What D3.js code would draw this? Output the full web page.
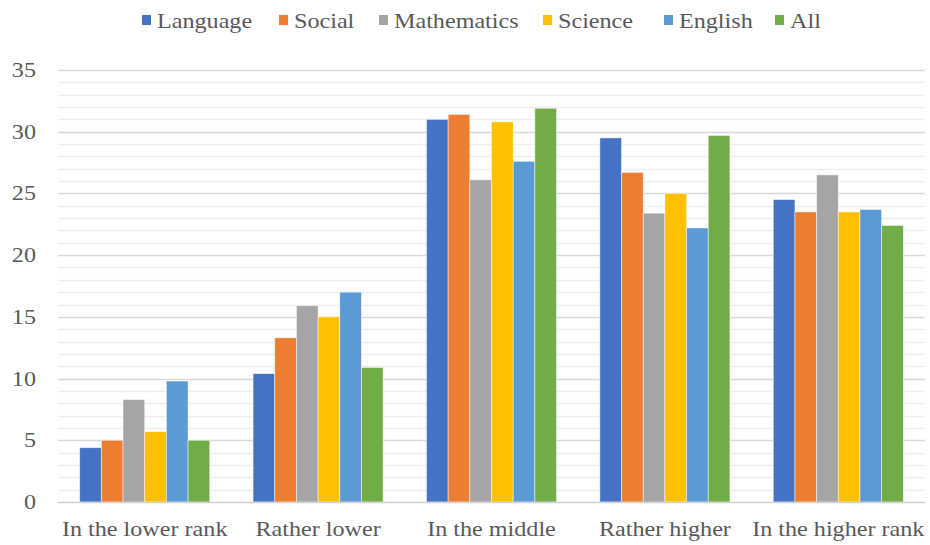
<!DOCTYPE html>
<html>
<head>
<meta charset="utf-8">
<script src="https://cdn.jsdelivr.net/npm/d3@7"></script>
<style>
  html, body { margin: 0; padding: 0; background: #fff; }
  svg { display: block; }
</style>
</head>
<body>
<svg id="chart" width="930" height="545" font-family="'Liberation Serif', 'DejaVu Serif', serif"></svg>
<script>
// Category labels along the x axis
const categories = ["In the lower rank", "Rather lower", "In the middle", "Rather higher", "In the higher rank"];
// Series names and colours
const seriesNames = ["Language", "Social", "Mathematics", "Science", "English", "All"];
const seriesColors = ["#4472C4", "#ED7D31", "#A5A5A5", "#FFC000", "#5B9BD5", "#70AD47"];
// Values per series, one per category
const language    = [4.4, 10.4, 31.0, 29.5, 24.5];
const social      = [5.0, 13.3, 31.4, 26.7, 23.5];
const mathematics = [8.3, 15.9, 26.1, 23.4, 26.5];
const science     = [5.7, 15.0, 30.8, 25.0, 23.5];
const english     = [9.8, 17.0, 27.6, 22.2, 23.7];
const all         = [5.0, 10.9, 31.9, 29.7, 22.4];
const seriesValues = [language, social, mathematics, science, english, all];
// Y axis tick labels
const yTicks = [0, 5, 10, 15, 20, 25, 30, 35];

const svg = d3.select("#chart");
const margin = { left: 58, right: 5, top: 70, bottom: 43 };
const W = 930, H = 545;
const textColor = "#595959";
const fontSize = 21;
const stretch = 1.15; // slightly wide lettering

const x = d3.scaleBand().domain(categories).range([margin.left, W - margin.right]).paddingInner(0.25).paddingOuter(0.125);
const xs = d3.scaleBand().domain(seriesNames).range([0, x.bandwidth()]);
const y = d3.scaleLinear().domain([0, 35]).range([H - margin.bottom, margin.top]);

// minor gridlines every unit
const minor = d3.range(1, 35).filter(v => v % 5 !== 0);
svg.append("g").selectAll("line").data(minor).join("line")
  .attr("x1", margin.left).attr("x2", W - margin.right)
  .attr("y1", d => Math.round(y(d)) + 0.5).attr("y2", d => Math.round(y(d)) + 0.5)
  .attr("stroke", "#eeeeee").attr("stroke-width", 1.3);

// major gridlines
svg.append("g").selectAll("line").data(yTicks.filter(v => v > 0)).join("line")
  .attr("x1", margin.left).attr("x2", W - margin.right)
  .attr("y1", d => Math.round(y(d)) + 0.5).attr("y2", d => Math.round(y(d)) + 0.5)
  .attr("stroke", "#d9d9d9").attr("stroke-width", 1.5);

// bars
const groups = svg.append("g").selectAll("g").data(categories).join("g")
  .attr("transform", d => `translate(${x(d)},0)`);
groups.selectAll("rect")
  .data((c, i) => seriesNames.map((s, j) => ({ s, j, v: seriesValues[j][i] })))
  .join("rect")
  .attr("x", d => xs(d.s))
  .attr("width", xs.bandwidth())
  .attr("y", d => y(d.v))
  .attr("height", d => y(0) - y(d.v))
  .attr("fill", d => seriesColors[d.j])
  .attr("stroke", "#ffffff").attr("stroke-opacity", 0.6).attr("stroke-width", 0.8);

// baseline axis
svg.append("line")
  .attr("x1", margin.left).attr("x2", W - margin.right)
  .attr("y1", y(0) + 0.5).attr("y2", y(0) + 0.5)
  .attr("stroke", "#d0d0d0").attr("stroke-width", 1.5);

// helper: text placed at (px, py) with horizontal stretch
function place(sel, px, py) {
  return sel.attr("x", 0).attr("y", 0)
    .attr("transform", (d, i) => `translate(${px(d, i)},${py(d, i)}) scale(${stretch},1)`)
    .attr("font-size", fontSize).attr("fill", textColor);
}

// y tick labels
place(svg.append("g").selectAll("text").data(yTicks).join("text"),
  () => 36, d => y(d) + 7)
  .attr("text-anchor", "end")
  .text(d => d);

// category labels
place(svg.append("g").selectAll("text").data(categories).join("text"),
  d => x(d) + x.bandwidth() / 2, () => 536)
  .attr("text-anchor", "middle")
  .text(d => d);

// legend
const legendX = [142, 279, 379, 543, 664, 775];
const legend = svg.append("g");
legend.selectAll("rect").data(seriesNames).join("rect")
  .attr("x", (d, i) => legendX[i]).attr("y", 15).attr("width", 9).attr("height", 10)
  .attr("fill", (d, i) => seriesColors[i]);
place(legend.selectAll("text").data(seriesNames).join("text"),
  (d, i) => legendX[i] + 15, () => 28)
  .text(d => d);
</script>
</body>
</html>
